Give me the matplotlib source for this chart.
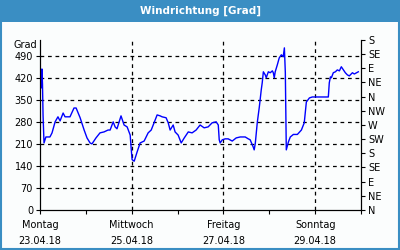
import numpy as np
import matplotlib
matplotlib.use("Agg")
import matplotlib.pyplot as plt

# Zeit in Stunden ab 23.04.18 00:00, Windrichtung in Grad (fortlaufend)
hours = [0.5, 0.8, 1.0, 1.3, 1.6, 2.1, 3.1, 5.2, 6.3, 7.9,
         9.4, 10.5, 12.1, 13.1, 15.7, 17.8, 18.9, 21.0, 23.1, 24.6,
         26.2, 27.2, 29.3, 31.4, 33.5, 35.6, 36.7, 38.3, 39.3, 40.3,
         42.4, 44.0, 45.6, 47.2, 47.7, 48.2, 49.3, 50.8, 52.4, 54.5,
         56.6, 58.2, 59.7, 61.3, 62.9, 63.9, 66.0, 67.1, 68.1, 69.7,
         70.7, 72.3, 73.9, 75.5, 77.6, 79.6, 81.7, 83.8, 85.9, 88.0,
         90.1, 92.2, 93.3, 93.8, 94.3, 95.4, 96.9, 98.5, 100.6, 102.7,
         104.8, 107.4, 109.0, 110.0, 111.6, 112.1, 112.7, 113.7, 114.8, 115.8,
         116.3, 116.9, 117.9, 118.4, 119.5, 120.5, 121.6, 122.1, 122.6, 123.1,
         124.2, 125.2, 126.3, 127.3, 127.9, 128.4, 128.9, 130.0, 131.0, 132.6,
         134.7, 136.8, 138.3, 139.4, 141.0, 142.5, 150.9, 151.4, 152.0, 152.5,
         153.5, 154.6, 155.6, 156.7, 157.7, 158.8, 159.8, 160.9, 161.9, 163.5,
         164.5, 166.6]
grad = [420, 388, 448, 400, 300, 213, 232, 232, 245, 280,
        296, 283, 308, 296, 296, 324, 324, 293, 254, 229,
        213, 210, 229, 245, 248, 254, 254, 280, 264, 258,
        299, 270, 264, 238, 197, 160, 155, 184, 213, 219,
        245, 254, 277, 302, 299, 296, 293, 277, 254, 270,
        248, 238, 213, 229, 248, 245, 254, 270, 261, 264,
        277, 280, 270, 223, 213, 223, 226, 226, 219, 229,
        232, 232, 226, 223, 200, 191, 213, 277, 328, 382,
        404, 439, 429, 420, 439, 436, 442, 436, 420, 439,
        461, 483, 493, 487, 515, 436, 191, 216, 232, 240,
        240, 254, 277, 343, 356, 359, 359, 404, 423, 420,
        436, 439, 445, 442, 455, 445, 436, 429, 426, 436,
        432, 439]

grad_ticks = [0, 70, 140, 210, 280, 350, 420, 490]
dir_ticks = [0, 45, 90, 135, 180, 225, 270, 315, 360, 405, 450, 495, 540]
dir_labels = ["N", "NE", "E", "SE", "S", "SW", "W", "NW", "N", "NE", "E", "SE", "S"]
day_ticks = [0, 48, 96, 144]
day_labels = ["Montag\n23.04.18", "Mittwoch\n25.04.18", "Freitag\n27.04.18", "Sonntag\n29.04.18"]

blue = "#3a8ec3"
fs = 7

fig = plt.figure(figsize=(4, 2.5), dpi=100, facecolor="#fbfdfd")
# Titelleiste und Rahmen
fig.patches.append(plt.Rectangle((0, 0.912), 1, 0.088, transform=fig.transFigure,
                                 facecolor=blue, edgecolor="none", zorder=0))
fig.patches.append(plt.Rectangle((0.002, 0.003), 0.996, 0.994, transform=fig.transFigure,
                                 facecolor="none", edgecolor=blue, linewidth=1.5, zorder=0))
fig.text(0.5, 0.956, "Windrichtung [Grad]", color="white", fontsize=7.5,
         fontweight="bold", ha="center", va="center")

ax = fig.add_axes([0.1, 0.16, 0.8025, 0.68])
ax.set_facecolor("none")
ax.plot(hours, grad, color="#0000ff", linewidth=1)

ax.set_xlim(0, 168)
ax.set_ylim(0, 540)
ax.set_yticks(grad_ticks)
ax.set_yticklabels([str(t) for t in grad_ticks], fontsize=fs)
ax.set_xticks(day_ticks)
ax.set_xticklabels(day_labels, fontsize=fs, linespacing=1.8)
ax.set_xticks(np.arange(0, 169, 24), minor=True)
ax.tick_params(axis="both", which="both", direction="out", length=3, width=0.8, pad=2)
ax.tick_params(axis="x", pad=4)
ax.spines["top"].set_visible(False)

for y in grad_ticks[1:]:
    ax.axhline(y, color="black", linestyle=(0, (3, 3)), linewidth=0.9, zorder=0)
for x in day_ticks[1:]:
    ax.axvline(x, color="black", linestyle=(0, (3, 3)), linewidth=0.9, zorder=0)

ax.text(-0.01, 1.0, "Grad", transform=ax.transAxes, fontsize=fs, ha="right", va="top")

ax2 = ax.twinx()
ax2.set_ylim(0, 540)
ax2.set_yticks(dir_ticks)
ax2.set_yticklabels(dir_labels, fontsize=fs)
ax2.tick_params(axis="y", direction="out", length=3, width=0.8, pad=2)
ax2.spines["top"].set_visible(False)

fig.savefig("out.png", dpi=100, facecolor=fig.get_facecolor())
